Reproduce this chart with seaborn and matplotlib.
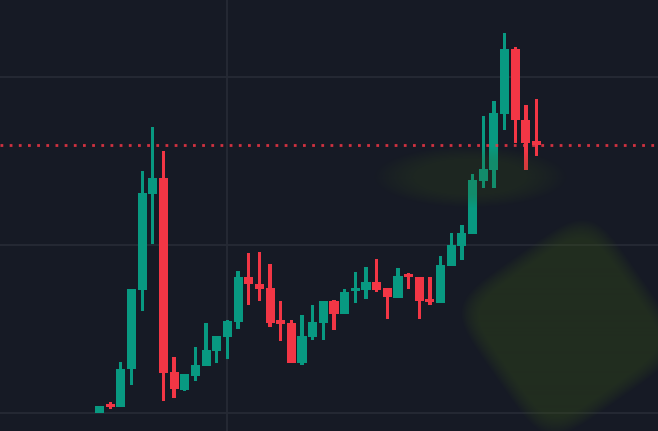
import numpy as np
import pandas as pd
import matplotlib
matplotlib.use("Agg")
import matplotlib.pyplot as plt
import seaborn as sns

# OHLC values (price units, gridlines at 100 / 200 / 300)
opens = [100.0, 104.8, 103.6, 126.2, 173.2, 230.4, 239.9, 124.4, 113.7, 122.0,
         128.0, 136.9, 145.2, 154.2, 181.0, 176.8, 174.4, 155.4, 153.6, 129.8,
         145.2, 153.6, 166.7, 158.9, 172.6, 173.2, 178.0, 174.4, 168.5, 182.7,
         181.0, 167.9, 165.5, 187.5, 199.4, 206.5, 238.1, 244.6, 278.0, 316.1,
         274.4, 261.9]
highs = [104.2, 106.5, 130.4, 173.8, 244.0, 269.9, 255.9, 133.3, 123.2, 139.3,
         153.6, 145.8, 155.4, 184.5, 195.2, 195.8, 188.7, 166.7, 155.4, 158.3,
         164.3, 166.7, 167.3, 173.8, 183.9, 186.9, 191.7, 174.4, 186.3, 183.3,
         181.0, 181.0, 193.5, 207.1, 211.9, 242.3, 276.8, 285.7, 325.6, 317.3,
         283.3, 286.9]
lows = [100.0, 102.4, 103.6, 116.7, 160.7, 200.6, 107.1, 108.9, 113.1, 119.0,
        128.0, 129.8, 132.1, 150.0, 164.3, 166.7, 151.2, 142.9, 129.8, 128.6,
        143.5, 143.5, 149.4, 158.9, 165.5, 167.9, 172.0, 156.0, 168.5, 173.8,
        156.0, 164.3, 165.5, 187.5, 191.1, 206.5, 233.9, 233.9, 268.5, 260.7,
        244.6, 253.0]
closes = [104.2, 103.6, 126.2, 173.8, 231.0, 239.9, 123.8, 114.3, 123.2, 128.6,
          137.5, 145.8, 154.8, 181.0, 176.8, 173.8, 153.6, 153.0, 129.8, 145.8,
          154.2, 166.7, 158.9, 172.0, 174.4, 178.0, 173.2, 169.0, 181.5, 181.0,
          166.7, 166.1, 188.1, 200.0, 207.1, 238.7, 245.2, 278.6, 316.1, 274.4,
          260.7, 259.5]

price_grid = [100, 200, 300]
time_grid = [12]

df = pd.DataFrame({"open": opens, "high": highs, "low": lows, "close": closes})
df["idx"] = np.arange(len(df))
df["up"] = df["close"] >= df["open"]

BG = "#161a25"
GRID = "#262a35"
UP = "#089981"
DOWN = "#f23645"

sns.set_theme(style="dark", rc={"axes.facecolor": BG, "figure.facecolor": BG})

fig = plt.figure(figsize=(6.58, 4.315), dpi=100)
ax = fig.add_axes([0, 0, 1, 1])
ax.set_facecolor(BG)

xmin, xmax = -9.33, 52.39
ymin, ymax = 89.3, 345.8
ax.set_xlim(xmin, xmax)
ax.set_ylim(ymin, ymax)

# grid
for p in price_grid:
    ax.axhline(p, color=GRID, lw=1.3, zorder=0)
for t in time_grid:
    ax.axvline(t, color=GRID, lw=1.3, zorder=0)

colors = np.where(df["up"], UP, DOWN)
body_lo = np.minimum(df["open"], df["close"])
body_h = np.maximum(np.abs(df["close"] - df["open"]), 1.8)

# wicks and bodies
ax.bar(df["idx"], df["high"] - df["low"], bottom=df["low"], width=0.3,
       color=colors, linewidth=0, zorder=2)
ax.bar(df["idx"], body_h, bottom=body_lo, width=0.85,
       color=colors, linewidth=0, zorder=3)

# last price line
ax.axhline(df["close"].iloc[-1], color=DOWN, lw=2.0, alpha=0.85,
           linestyle=(0, (1, 2.3)), zorder=4)

# soft green glows drawn over the chart
H, W = 431, 658
yy, xx = np.mgrid[0:H, 0:W].astype(float)

d1 = ((xx - 470) / 85) ** 2 + ((yy - 177) / 27) ** 2
a1 = np.clip((1.3 - d1) / 0.9, 0, 1) * 0.2

ang = np.deg2rad(55)
u = (xx - 568) * np.cos(ang) + (yy - 327) * np.sin(ang)
v = -(xx - 568) * np.sin(ang) + (yy - 327) * np.cos(ang)
d2 = (np.abs(u) / 84) ** 5 + (np.abs(v) / 84) ** 5
a2 = np.clip((1.3 - d2) / 0.8, 0, 1) * 0.3

alpha = np.clip(a1 + a2, 0, 1)
glow = np.zeros((H, W, 4))
glow[..., 0] = 60 / 255
glow[..., 1] = 90 / 255
glow[..., 2] = 20 / 255
glow[..., 3] = alpha
ax.imshow(glow, extent=(xmin, xmax, ymin, ymax), origin="upper",
          aspect="auto", zorder=5, interpolation="bilinear")

ax.set_xlim(xmin, xmax)
ax.set_ylim(ymin, ymax)
ax.set_xticks([])
ax.set_yticks([])
for s in ax.spines.values():
    s.set_visible(False)

fig.savefig("out.png", dpi=100, facecolor=BG)
